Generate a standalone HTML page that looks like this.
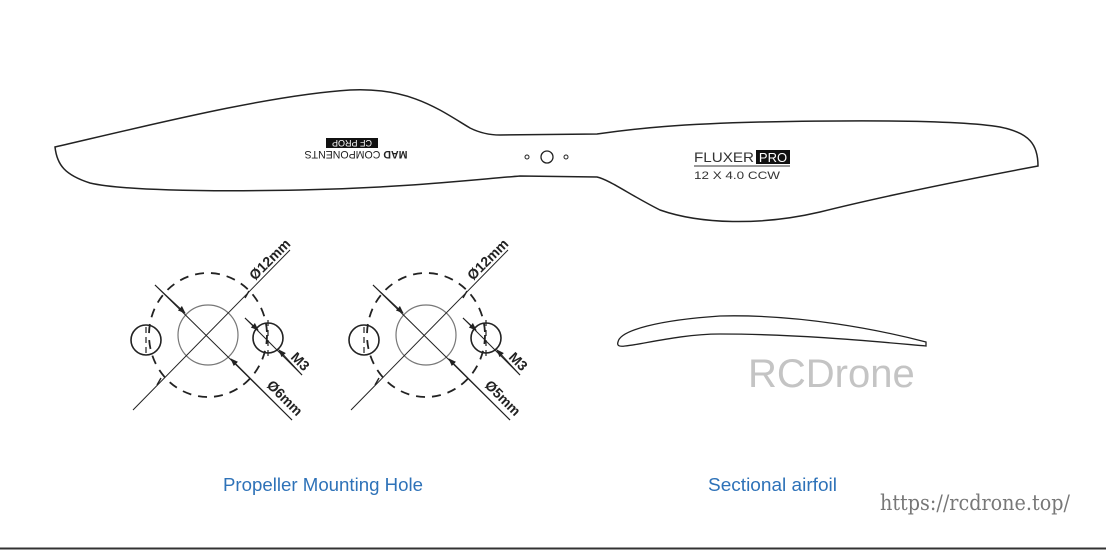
<!DOCTYPE html>
<html><head><style>
html,body{margin:0;padding:0;background:#fff;width:1106px;height:550px;overflow:hidden}
</style></head><body>
<svg width="1106" height="550" viewBox="0 0 1106 550" xmlns="http://www.w3.org/2000/svg" font-family="Liberation Sans, sans-serif">
<rect width="1106" height="550" fill="#fff"/>
<line x1="0" y1="548.5" x2="1106" y2="548.5" stroke="#333" stroke-width="2"/>
<!-- propeller -->
<path d="M55,147 C150,125 270,95 350,90 C410,87 440,110 470,128 C480,133 490,135 500,135 L597,134 C640,128 680,124 760,122 C860,120 960,120 1000,127 C1030,133 1038,145 1038,166 C990,175 900,192 820,212 C760,226 700,224 660,210 C630,195 610,180 597,177 L520,176 C470,180 400,188 300,190 C200,192 120,190 90,183 C65,175 57,165 55,147 Z" fill="#fff" stroke="#222" stroke-width="1.5"/>
<circle cx="547" cy="157" r="6" fill="none" stroke="#222" stroke-width="1.3"/>
<circle cx="527" cy="157" r="2" fill="none" stroke="#222" stroke-width="1"/>
<circle cx="566" cy="157" r="2" fill="none" stroke="#222" stroke-width="1"/>
<rect x="326" y="138" width="52" height="10" fill="#111"/>
<text x="352" y="146" font-size="9" fill="#fff" text-anchor="middle" transform="rotate(180 352 143)">CF PROP</text>
<text x="356" y="159" font-size="11" fill="#222" text-anchor="middle" transform="rotate(180 356 155)" textLength="103" lengthAdjust="spacingAndGlyphs"><tspan font-weight="bold">MAD</tspan> COMPONENTS</text>
<text x="694" y="162" font-size="14" fill="#333" textLength="60" lengthAdjust="spacingAndGlyphs">FLUXER</text>
<rect x="756" y="150" width="34" height="14" fill="#111"/>
<text x="773" y="162" font-size="13" fill="#fff" text-anchor="middle">PRO</text>
<line x1="694" y1="166" x2="790" y2="166" stroke="#333" stroke-width="1"/>
<text x="694" y="179" font-size="11" fill="#333" textLength="86" lengthAdjust="spacingAndGlyphs">12 X 4.0 CCW</text>
<!-- mounting holes -->
<defs>
<marker id="ar" markerWidth="8" markerHeight="8" refX="7" refY="4" orient="auto" markerUnits="userSpaceOnUse"><path d="M0,1 L8,4 L0,7 Z" fill="#222"/></marker>
</defs>
<g id="g1" fill="none" stroke="#222">
<ellipse cx="208" cy="335" rx="59" ry="62" stroke-width="1.8" stroke-dasharray="9,7"/>
<circle cx="208" cy="335" r="30" stroke="#777" stroke-width="1.2"/>
<circle cx="146" cy="340" r="15" stroke-width="1.6"/>
<line x1="146" y1="327" x2="146" y2="353" stroke-width="1.2" stroke-dasharray="6,4"/>
<circle cx="268" cy="338" r="15" stroke-width="1.6"/>
<line x1="268" y1="320" x2="268" y2="356" stroke-width="1.2" stroke-dasharray="6,4"/>
<line x1="133" y1="410" x2="290" y2="250" stroke-width="1"/>
<line x1="155" y1="285" x2="292" y2="420" stroke-width="1"/>
<line x1="155" y1="285" x2="185" y2="313" stroke-width="1" marker-end="url(#ar)"/>
<line x1="292" y1="420" x2="231" y2="359" stroke-width="1" marker-end="url(#ar)"/>
<line x1="245" y1="318" x2="302" y2="375" stroke-width="1"/>
<line x1="245" y1="318" x2="258" y2="330" stroke-width="1" marker-end="url(#ar)"/>
<line x1="302" y1="375" x2="279" y2="350" stroke-width="1" marker-end="url(#ar)"/>
<line x1="161" y1="378" x2="157" y2="385" stroke-width="1.4"/>
<line x1="249" y1="291" x2="245" y2="298" stroke-width="1.4"/>
</g>
<text font-size="14" font-weight="bold" fill="#222" transform="translate(255,281) rotate(-45)">Ø12mm</text>
<text font-size="14" font-weight="bold" fill="#222" transform="translate(290,358) rotate(45)">M3</text>
<text font-size="14" font-weight="bold" fill="#222" transform="translate(266,386) rotate(45)">Ø6mm</text>
<use href="#g1" x="218"/>
<text font-size="14" font-weight="bold" fill="#222" transform="translate(473,281) rotate(-45)">Ø12mm</text>
<text font-size="14" font-weight="bold" fill="#222" transform="translate(508,358) rotate(45)">M3</text>
<text font-size="14" font-weight="bold" fill="#222" transform="translate(484,386) rotate(45)">Ø5mm</text>
<!-- airfoil -->
<path d="M618,342 C620,330 660,320 720,316 C800,314 880,330 926,342 L926,346 C880,342 800,334 720,334 C680,334 640,345 625,346 C618,347 617,345 618,342 Z" fill="#fff" stroke="#222" stroke-width="1.3"/>
<text x="748" y="387" font-size="40" fill="#c4c4c4">RCDrone</text>
<text x="223" y="491" font-size="18" fill="#2e72b8" textLength="200" lengthAdjust="spacingAndGlyphs">Propeller Mounting Hole</text>
<text x="708" y="491" font-size="18" fill="#2e72b8" textLength="129" lengthAdjust="spacingAndGlyphs">Sectional airfoil</text>
<text x="880" y="510" font-size="21" fill="#777" font-family="DejaVu Serif, serif" textLength="190" lengthAdjust="spacingAndGlyphs">https://rcdrone.top/</text>
</svg>
</body></html>
